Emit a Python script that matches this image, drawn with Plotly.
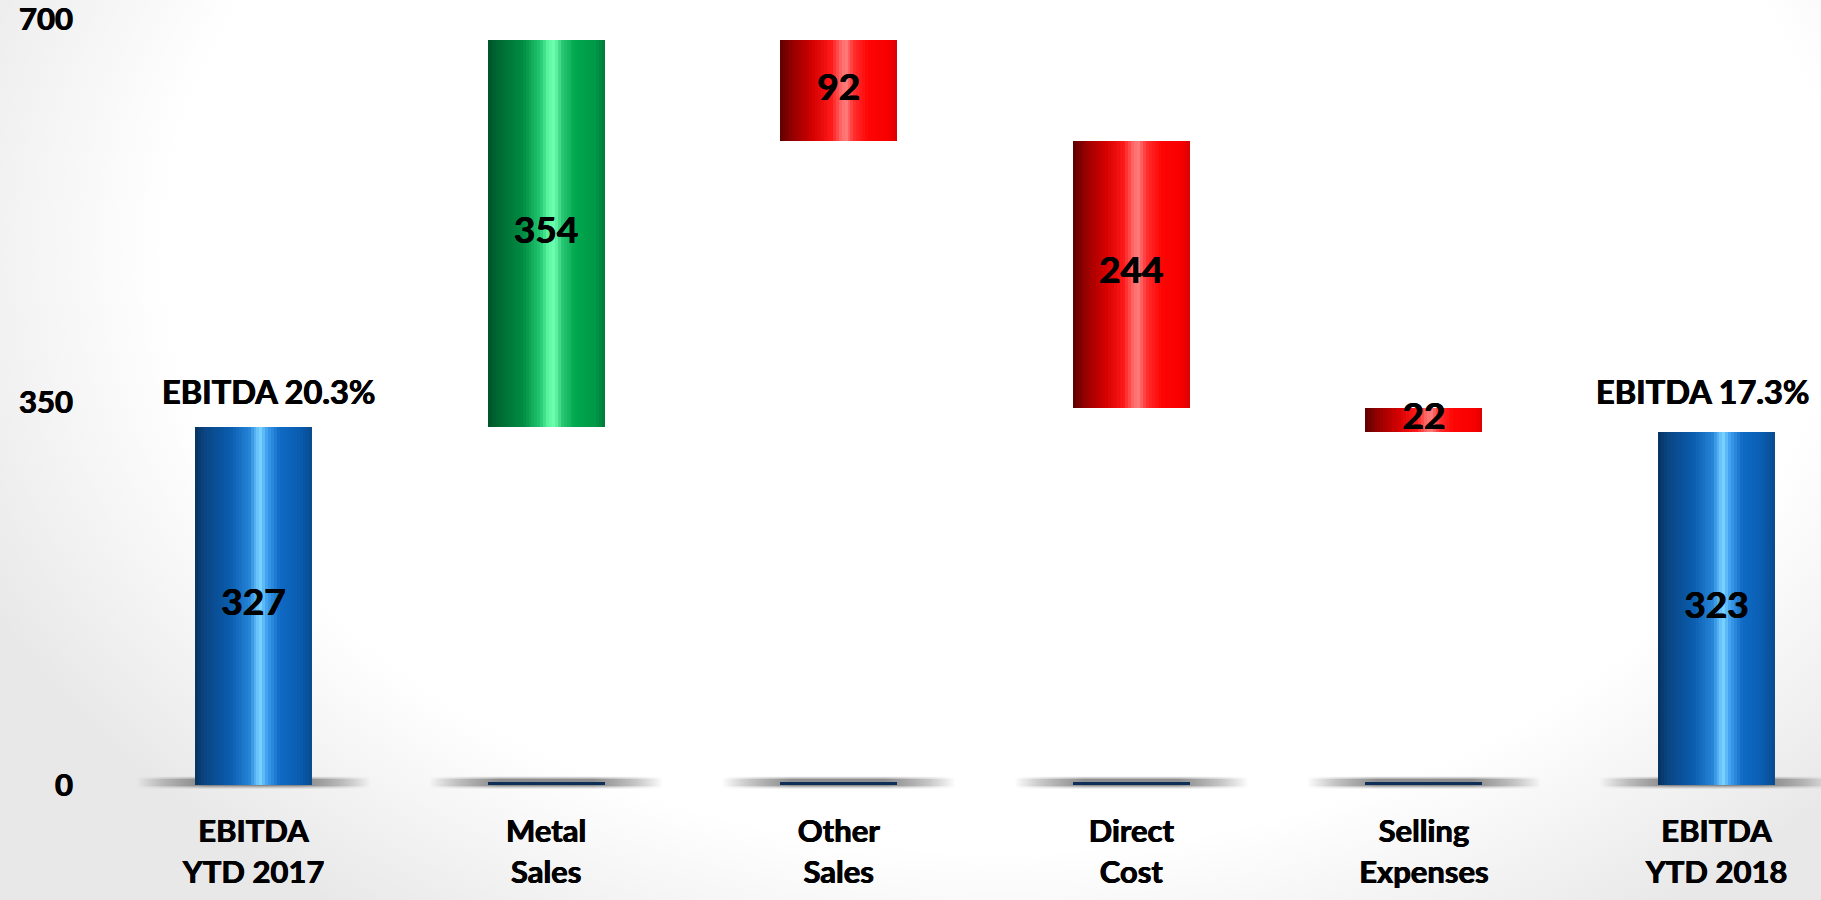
import base64
import plotly.graph_objects as go

# ---- data ----
categories = ["EBITDA<br>YTD 2017", "Metal<br>Sales", "Other<br>Sales",
              "Direct<br>Cost", "Selling<br>Expenses", "EBITDA<br>YTD 2018"]
changes = [327, 354, -92, -244, -22, 323]
kinds = ["total", "delta", "delta", "delta", "delta", "total"]
margin_labels = ["EBITDA 20.3%", "", "", "", "", "EBITDA 17.3%"]
y_ticks = [0, 350, 700]

# ---- waterfall geometry from the values ----
positions = list(range(len(categories)))
bases, heights = [], []
running = 0
for v, k in zip(changes, kinds):
    if k == "total":
        bases.append(0)
        heights.append(v)
        running = v
    else:
        bases.append(running + min(v, 0))
        heights.append(abs(v))
        running += v
mids = [b + h / 2 for b, h in zip(bases, heights)]
value_text = [str(abs(v)) for v in changes]

# ---- cylinder shading palettes (left -> right colour stops) ----
BLUE = [(0.0, "#06335f"), (0.08, "#0a4583"), (0.3, "#0a5cad"), (0.46, "#2582d6"),
        (0.52, "#5ab8f6"), (0.56, "#7ad2ff"), (0.62, "#3d9ded"), (0.72, "#0f6ac4"),
        (0.9, "#0a5cb0"), (1.0, "#0a4a8e")]
GREEN = [(0.0, "#005229"), (0.1, "#006a34"), (0.3, "#008c42"), (0.45, "#22c670"),
         (0.52, "#5cf7a2"), (0.57, "#6effaf"), (0.64, "#26c472"), (0.75, "#00a84e"),
         (0.92, "#009847"), (1.0, "#007a39")]
RED = [(0.0, "#5e0000"), (0.1, "#930000"), (0.28, "#d40000"), (0.44, "#ff1a1a"),
       (0.52, "#ff6a6a"), (0.56, "#ff7c7c"), (0.63, "#ff3030"), (0.75, "#ff0505"),
       (0.92, "#f80000"), (1.0, "#dd0000")]


def hex_to_rgb(h):
    h = h.lstrip("#")
    return tuple(int(h[i:i + 2], 16) for i in (0, 2, 4))


def shade(stops, t):
    for (t0, c0), (t1, c1) in zip(stops, stops[1:]):
        if t0 <= t <= t1:
            f = 0 if t1 == t0 else (t - t0) / (t1 - t0)
            a, b = hex_to_rgb(c0), hex_to_rgb(c1)
            return "rgb(%d,%d,%d)" % tuple(round(x + (y - x) * f) for x, y in zip(a, b))
    return stops[-1][1]


def palette_for(k, v):
    if k == "total":
        return BLUE
    return GREEN if v > 0 else RED


palettes = [palette_for(k, v) for k, v in zip(kinds, changes)]

BAR_W = 0.4
N_STRIPS = 40
SHADOW_W = 0.8
FONT = "Lato"
THICK = "0.45px 0 0 #000, -0.45px 0 0 #000"
X_RANGE = [-0.5246, 5.357]
Y_RANGE = [-14.6, 704.8]

fig = go.Figure()

# soft floor shadow under every column: stacked bands with a horizontal fade
for (lo, hi, a) in [(-3.2, 7.6, 0.16), (-2.0, 6.6, 0.24), (-0.9, 5.4, 0.32)]:
    ramp = [[0.0, "rgba(55,55,55,0)"], [0.12, "rgba(55,55,55,%.3f)" % (a * 0.45)],
            [0.3, "rgba(55,55,55,%.3f)" % a], [0.7, "rgba(55,55,55,%.3f)" % a],
            [0.88, "rgba(55,55,55,%.3f)" % (a * 0.45)], [1.0, "rgba(55,55,55,0)"]]
    for p in positions:
        left, right = p - SHADOW_W / 2, p + SHADOW_W / 2
        fig.add_trace(go.Scatter(
            x=[left, right, right, left, left], y=[lo, lo, hi, hi, lo],
            fill="toself", mode="none",
            fillgradient=dict(type="horizontal", colorscale=ramp),
            hoverinfo="skip", showlegend=False, xaxis="x", yaxis="y"))

# thin cylinder floor under the floating columns
floor_x = [p for p, k in zip(positions, kinds) if k == "delta"]
fig.add_trace(go.Bar(
    x=floor_x, y=[2.2] * len(floor_x), base=[0.2] * len(floor_x),
    width=BAR_W, offset=-BAR_W / 2,
    marker=dict(color="#0e2f57", line=dict(width=0)),
    hoverinfo="skip", showlegend=False, xaxis="x2", yaxis="y2"))

# shaded columns built from narrow vertical strips
step = BAR_W / N_STRIPS
for i in range(N_STRIPS):
    t = (i + 0.5) / N_STRIPS
    off = -BAR_W / 2 + i * step
    fig.add_trace(go.Bar(
        x=positions, y=heights, base=bases,
        width=min(step * 1.8, BAR_W / 2 - off), offset=off,
        marker=dict(color=[shade(p, t) for p in palettes], line=dict(width=0)),
        hoverinfo="skip", showlegend=False, xaxis="x2", yaxis="y2"))

# value labels in the middle of each column
fig.add_trace(go.Scatter(
    x=positions, y=mids, mode="text", text=value_text,
    textfont=dict(family=FONT, size=37, color="black", weight="bold", shadow=THICK),
    cliponaxis=False, hoverinfo="skip", showlegend=False, xaxis="x2", yaxis="y2"))

# EBITDA margin labels above the total columns
for p, lab, dx in zip(positions, margin_labels, [15, 0, 0, 0, 0, -14]):
    if lab:
        fig.add_annotation(x=p, y=360, xref="x2", yref="y2", text=lab,
                           showarrow=False, xshift=dx,
                           font=dict(family=FONT, size=32.5, color="black",
                                     weight="bold", shadow=THICK))

# faint grey vignette behind the chart
svg = (
    '<svg xmlns="http://www.w3.org/2000/svg" width="1821" height="900">'
    '<defs><radialGradient id="g" cx="0.55" cy="0.28" r="0.62" '
    'gradientTransform="translate(0.55 0.28) scale(1 1.45) translate(-0.55 -0.28)">'
    '<stop offset="0.74" stop-color="#ffffff"/>'
    '<stop offset="1" stop-color="#e8e8e8"/></radialGradient></defs>'
    '<rect width="1821" height="900" fill="url(#g)"/></svg>'
)
bg_uri = "data:image/svg+xml;base64," + base64.b64encode(svg.encode()).decode()

L, R, T, B = 100, 0, 14, 99
PW, PH = 1821 - L - R, 900 - T - B
fig.add_layout_image(
    source=bg_uri, xref="paper", yref="paper",
    x=-L / PW, y=1 + T / PH, sizex=1821 / PW, sizey=900 / PH,
    xanchor="left", yanchor="top", sizing="stretch", layer="below")

axis_font = dict(family=FONT, size=31, color="black", weight="bold", shadow=THICK)

fig.update_layout(
    width=1821, height=900, autosize=False,
    margin=dict(l=L, r=R, t=T, b=B),
    paper_bgcolor="white", plot_bgcolor="rgba(0,0,0,0)",
    barmode="overlay", bargap=0, showlegend=False,
    font=axis_font,
    xaxis=dict(range=X_RANGE, tickvals=positions, ticktext=categories,
               showgrid=False, zeroline=False, showline=False,
               ticks="outside", ticklen=3, tickcolor="rgba(0,0,0,0)",
               tickfont=axis_font),
    yaxis=dict(range=Y_RANGE, tickvals=y_ticks, showgrid=False, zeroline=False,
               showline=False, ticks="", ticklabelstandoff=26,
               ticklabeloverflow="allow", tickfont=axis_font),
    xaxis2=dict(range=X_RANGE, overlaying="x", visible=False),
    yaxis2=dict(range=Y_RANGE, overlaying="y", visible=False),
)

fig.write_html("out.html")
